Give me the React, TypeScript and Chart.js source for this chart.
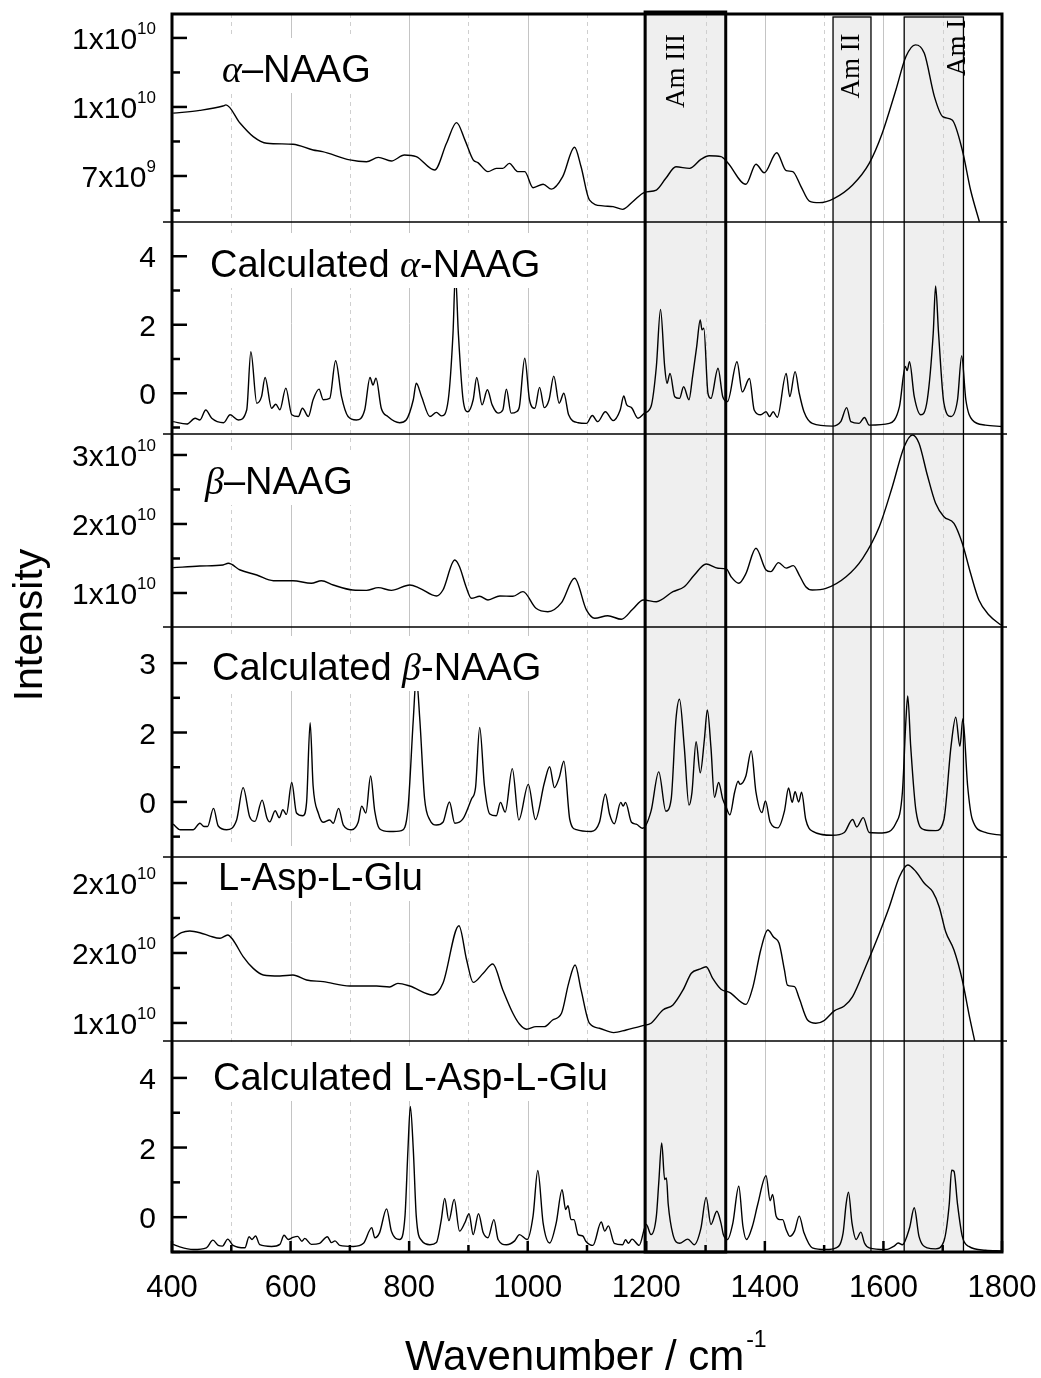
import React, { useEffect, useRef } from "react";
import { Chart, registerables } from "chart.js";

Chart.register(...registerables);

// ---------------- x axis ----------------
const xMin = 400;
const xMax = 1800;
const xMajorTicks = [400, 600, 800, 1000, 1200, 1400, 1600, 1800];
const xMinorTicks = [500, 700, 900, 1100, 1300, 1500, 1700];
const gridSolid = [600, 800, 1000, 1200, 1400, 1600];
const gridDashed = [500, 700, 900, 1100, 1300, 1500, 1700];

// ---------------- amide bands ----------------
const bandNames = ["Am III", "Am II", "Am I"];
const bandStart = [1198, 1515, 1635];
const bandEnd = [1334, 1579, 1735];

// ---------------- alpha-NAAG (experimental, x10^9) ----------------
const alphaNaagWn = [
  402, 447, 486, 491, 515, 537, 560, 604, 638, 654,
  700, 728, 748, 770, 792, 812, 843, 863, 880, 894,
  908, 916, 933, 947, 958, 969, 983, 995, 1009, 1026,
  1040, 1059, 1079, 1090, 1104, 1127, 1144, 1160, 1177, 1197,
  1217, 1233, 1250, 1273, 1292, 1306, 1326, 1337, 1368, 1385,
  1399, 1420, 1436, 1447, 1461, 1475, 1492, 1517, 1548, 1576,
  1598, 1621, 1638, 1654, 1669, 1686, 1700, 1716, 1733, 1747, 1762,
];
const alphaNaagI = [
  9.73, 9.85, 10.04, 10.09, 9.29, 8.71, 8.42, 8.38, 8.13, 8.06,
  7.70, 7.62, 7.81, 7.65, 7.91, 7.84, 7.26, 8.42, 9.32, 8.57,
  7.70, 7.58, 7.19, 7.33, 7.33, 7.55, 7.19, 7.19, 6.49, 6.64,
  6.43, 6.97, 8.25, 7.40, 5.96, 5.70, 5.67, 5.55, 5.88, 6.29,
  6.39, 6.90, 7.40, 7.33, 7.72, 7.88, 7.84, 7.59, 6.64, 7.51,
  7.14, 8.01, 7.23, 7.19, 6.54, 5.91, 5.84, 6.03, 6.61, 7.55,
  8.86, 10.74, 12.19, 12.70, 12.33, 10.45, 9.58, 9.43, 8.13, 6.39, 5.0,
];

// ---------------- calculated alpha-NAAG ----------------
const calcAlphaWn = [
  402, 425, 439, 447, 457, 467, 487, 498, 512, 526,
  533, 543, 551, 557, 568, 575, 582, 592, 602, 613,
  620, 630, 638, 648, 655, 666, 676, 686, 697, 711,
  725, 734, 739, 744, 753, 764, 784, 795, 807, 812,
  821, 835, 846, 855, 866, 874, 878, 883, 891, 899,
  908, 914, 923, 932, 940, 950, 958, 964, 972, 981,
  986, 995, 1003, 1012, 1020, 1028, 1036, 1044, 1053, 1061,
  1069, 1085, 1099, 1109, 1118, 1131, 1144, 1156, 1162, 1167,
  1175, 1186, 1197, 1208, 1217, 1224, 1231, 1235, 1240, 1248,
  1256, 1263, 1272, 1278, 1285, 1291, 1294, 1297, 1304, 1309,
  1321, 1329, 1337, 1353, 1362, 1374, 1382, 1393, 1402, 1408,
  1414, 1421, 1436, 1442, 1451, 1458, 1466, 1480, 1514, 1528,
  1538, 1545, 1559, 1568, 1576, 1610, 1627, 1637, 1640, 1644,
  1652, 1663, 1674, 1684, 1688, 1693, 1702, 1714, 1725, 1732,
  1739, 1750, 1772, 1800,
];
const calcAlphaI = [
  -0.83, -0.90, -0.73, -0.78, -0.49, -0.73, -0.86, -0.63, -0.78, -0.49,
  1.21, -0.29, -0.10, 0.46, -0.44, -0.32, -0.48, 0.15, -0.63, -0.68,
  -0.44, -0.68, -0.19, 0.12, -0.19, -0.15, 0.95, -0.10, -0.68, -0.78,
  -0.49, 0.46, 0.24, 0.44, -0.44, -0.68, -0.86, -0.78, -0.19, 0.29,
  -0.10, -0.68, -0.56, -0.66, -0.19, 1.75, 3.50, 1.75, -0.19, -0.54,
  -0.19, 0.46, -0.34, 0.10, -0.34, -0.58, -0.49, 0.12, -0.58, -0.54,
  -0.39, 1.02, -0.19, -0.44, 0.17, -0.42, -0.19, 0.50, -0.29, 0.00,
  -0.63, -0.86, -0.88, -0.65, -0.83, -0.54, -0.80, -0.49, -0.08, -0.34,
  -0.42, -0.73, -0.58, -0.39, 0.78, 2.45, 0.78, 0.29, 0.58, -0.10,
  -0.15, 0.19, -0.19, 0.48, 1.36, 2.14, 1.85, 1.90, 0.00, -0.15,
  0.73, -0.10, -0.24, 0.92, 0.04, 0.43, -0.49, -0.63, -0.54, -0.68,
  -0.54, -0.70, 0.58, -0.10, 0.63, 0.00, -0.54, -0.88, -0.96, -0.83,
  -0.42, -0.83, -0.88, -0.71, -0.93, -0.88, -0.39, 0.78, 0.66, 0.92,
  -0.10, -0.63, -0.19, 1.75, 3.13, 1.75, -0.29, -0.68, -0.19, 1.09,
  -0.19, -0.78, -0.93, -0.97,
];

// ---------------- beta-NAAG (experimental, x10^9) ----------------
const betaNaagWn = [
  402, 447, 486, 495, 515, 543, 571, 604, 635, 652,
  672, 705, 728, 748, 770, 801, 818, 846, 857, 877,
  885, 896, 905, 919, 933, 953, 975, 992, 1014, 1034,
  1057, 1079, 1099, 1113, 1135, 1158, 1177, 1195, 1217, 1245,
  1264, 1281, 1301, 1321, 1335, 1343, 1356, 1368, 1385, 1402,
  1410, 1423, 1436, 1448, 1458, 1469, 1480, 1503, 1537, 1565,
  1593, 1615, 1635, 1649, 1660, 1674, 1688, 1702, 1719, 1733,
  1747, 1761, 1778, 1798,
];
const betaNaagI = [
  13.67, 13.90, 14.06, 14.30, 13.33, 12.60, 11.78, 11.78, 11.40, 11.78,
  11.16, 10.43, 10.38, 10.77, 10.38, 11.16, 10.68, 9.57, 10.43, 14.78,
  13.81, 10.91, 9.23, 9.52, 8.99, 9.57, 9.52, 10.19, 7.78, 7.29,
  8.60, 12.13, 7.54, 6.33, 6.71, 6.19, 7.64, 8.99, 8.74, 10.19,
  10.91, 12.60, 14.20, 13.58, 13.50, 12.36, 11.40, 12.80, 16.48, 13.33,
  13.09, 14.40, 13.60, 13.96, 12.60, 10.91, 10.43, 10.67, 12.36, 15.03,
  19.60, 25.40, 31.20, 32.90, 31.70, 27.10, 23.00, 21.06, 20.10, 17.20,
  12.85, 8.99, 6.81, 5.36,
];

// ---------------- calculated beta-NAAG ----------------
const calcBetaWn = [
  402, 414, 436, 447, 454, 460, 470, 478, 492, 509,
  520, 531, 540, 552, 560, 565, 574, 581, 587, 593,
  602, 610, 621, 627, 633, 638, 647, 655, 666, 672,
  681, 689, 703, 714, 720, 727, 735, 742, 750, 767,
  787, 798, 807, 812, 818, 826, 835, 846, 857, 868,
  877, 891, 905, 912, 919, 927, 936, 947, 954, 962,
  974, 985, 1001, 1013, 1028, 1037, 1045, 1053, 1061, 1071,
  1082, 1107, 1121, 1131, 1138, 1146, 1157, 1161, 1165, 1175,
  1183, 1194, 1208, 1221, 1233, 1242, 1250, 1256, 1264, 1272,
  1277, 1284, 1291, 1298, 1303, 1309, 1315, 1322, 1329, 1334,
  1341, 1349, 1355, 1358, 1368, 1377, 1385, 1395, 1401, 1409,
  1422, 1433, 1440, 1446, 1451, 1457, 1462, 1469, 1480, 1514,
  1534, 1548, 1555, 1566, 1576, 1598, 1621, 1632, 1638, 1641,
  1646, 1655, 1669, 1688, 1702, 1714, 1722, 1729, 1734, 1742,
  1750, 1772, 1800,
];
const calcBetaI = [
  -0.28, -0.40, -0.40, -0.26, -0.33, -0.33, 0.06, -0.32, -0.40, -0.19,
  0.51, -0.12, -0.22, 0.24, -0.14, -0.23, 0.01, -0.14, 0.03, -0.07,
  0.62, -0.04, -0.10, 0.19, 1.91, 0.55, -0.05, -0.24, -0.19, -0.26,
  0.06, -0.30, -0.40, -0.24, 0.11, -0.04, 0.76, 0.00, -0.38, -0.44,
  -0.42, 0.05, 1.98, 2.90, 1.98, 0.28, -0.19, -0.30, -0.24, 0.20,
  -0.26, -0.16, 0.26, 0.51, 1.81, 0.55, -0.06, -0.10, 0.19, -0.02,
  0.92, -0.19, 0.58, -0.18, 0.61, 0.96, 0.51, 0.72, 1.08, -0.18,
  -0.40, -0.44, -0.24, 0.37, -0.06, -0.27, 0.19, 0.11, 0.19, -0.24,
  -0.28, -0.37, 0.00, 0.85, 0.00, 0.26, 1.98, 2.42, 1.40, 0.13,
  0.40, 1.50, 0.83, 1.55, 2.19, 1.39, 0.30, 0.62, 0.26, 0.11,
  -0.08, 0.41, 0.65, 0.58, 0.76, 1.30, 0.41, -0.03, 0.22, -0.24,
  -0.36, 0.00, 0.50, 0.19, 0.42, 0.20, 0.41, -0.18, -0.43, -0.52,
  -0.46, -0.18, -0.34, -0.14, -0.46, -0.47, -0.26, 0.41, 1.98, 2.49,
  1.40, 0.00, -0.40, -0.42, -0.18, 1.40, 2.03, 1.40, 2.00, 0.55,
  -0.18, -0.46, -0.52,
];

// ---------------- L-Asp-L-Glu (experimental, x10^9) ----------------
const aspGluWn = [
  402, 416, 430, 447, 464, 481, 494, 503, 520, 537,
  554, 582, 604, 627, 655, 700, 745, 767, 781, 801,
  840, 857, 884, 897, 908, 925, 941, 958, 975, 986,
  998, 1014, 1028, 1042, 1057, 1069, 1080, 1090, 1104, 1121,
  1145, 1166, 1194, 1208, 1228, 1245, 1262, 1276, 1290, 1301,
  1312, 1326, 1341, 1368, 1380, 1393, 1405, 1415, 1424, 1433,
  1438, 1450, 1458, 1472, 1486, 1500, 1517, 1534, 1548, 1570,
  1593, 1610, 1627, 1641, 1655, 1669, 1683, 1694, 1705, 1719,
  1733, 1744, 1756,
];
const aspGluI = [
  16.05, 16.45, 16.57, 16.45, 16.21, 16.05, 16.29, 15.93, 14.74, 13.90,
  13.43, 13.36, 13.43, 13.07, 12.95, 12.64, 12.64, 12.57, 12.83, 12.64,
  12.00, 12.83, 16.95, 14.50, 12.90, 13.55, 14.21, 12.36, 10.69, 9.92,
  9.55, 9.74, 9.74, 10.21, 10.69, 12.83, 14.14, 12.36, 9.98, 9.62,
  9.31, 9.50, 9.81, 9.98, 10.93, 11.29, 12.36, 13.55, 13.84, 14.02,
  13.19, 12.41, 12.17, 11.33, 12.60, 15.21, 16.64, 16.12, 15.69, 13.79,
  12.71, 12.60, 11.76, 10.21, 9.98, 10.17, 10.86, 11.21, 11.88, 14.02,
  16.40, 18.31, 20.45, 21.29, 20.81, 19.98, 19.38, 18.31, 16.52, 15.21,
  13.07, 10.69, 8.31,
];

// ---------------- calculated L-Asp-L-Glu ----------------
const calcAspGluWn = [
  402, 411, 436, 458, 469, 478, 485, 494, 503, 523,
  530, 535, 541, 548, 568, 582, 589, 596, 604, 612,
  619, 624, 635, 649, 662, 669, 675, 683, 706, 723,
  737, 742, 750, 762, 770, 784, 793, 798, 802, 807,
  812, 821, 835, 846, 854, 860, 867, 876, 885, 894,
  901, 908, 917, 925, 933, 943, 950, 964, 978, 986,
  999, 1009, 1017, 1026, 1037, 1048, 1058, 1064, 1068, 1073,
  1078, 1085, 1093, 1098, 1110, 1124, 1130, 1136, 1146, 1160,
  1165, 1170, 1176, 1188, 1200, 1208, 1217, 1221, 1226, 1231,
  1234, 1237, 1245, 1256, 1270, 1281, 1292, 1301, 1309, 1319,
  1326, 1330, 1337, 1346, 1356, 1363, 1369, 1379, 1388, 1402,
  1409, 1413, 1419, 1425, 1430, 1436, 1442, 1450, 1458, 1466,
  1480, 1503, 1520, 1532, 1537, 1541, 1547, 1554, 1562, 1568,
  1576, 1604, 1618, 1625, 1632, 1644, 1652, 1660, 1674, 1688,
  1702, 1711, 1715, 1719, 1725, 1733, 1744, 1772, 1800,
];
const calcAspGluI = [
  -0.78, -0.84, -0.93, -0.88, -0.66, -0.81, -0.83, -0.63, -0.81, -0.88,
  -0.56, -0.64, -0.54, -0.79, -0.84, -0.78, -0.52, -0.64, -0.58, -0.55,
  -0.69, -0.61, -0.78, -0.75, -0.56, -0.73, -0.68, -0.81, -0.84, -0.75,
  -0.30, -0.59, -0.45, 0.24, -0.40, -0.64, 0.03, 1.94, 3.18, 1.94,
  0.03, -0.67, -0.79, -0.73, -0.10, 0.54, -0.10, 0.51, -0.40, -0.16,
  0.10, -0.50, 0.10, -0.45, -0.59, -0.07, -0.64, -0.79, -0.68, -0.50,
  -0.64, 0.03, 1.34, -0.17, -0.74, -0.17, 0.79, 0.22, 0.33, -0.07,
  -0.07, -0.50, -0.54, -0.69, -0.81, -0.14, -0.40, -0.25, -0.75, -0.79,
  -0.65, -0.75, -0.63, -0.81, -0.21, -0.50, 0.03, 0.98, 2.13, 1.08,
  1.13, 0.37, -0.50, -0.75, -0.63, -0.79, -0.33, 0.57, -0.21, 0.17,
  -0.17, -0.50, -0.64, -0.17, 0.89, -0.26, -0.64, -0.26, 0.37, 1.19,
  0.47, 0.65, 0.03, -0.07, -0.07, -0.36, -0.55, -0.40, 0.03, -0.45,
  -0.88, -0.93, -0.88, -0.45, 0.37, 0.72, -0.17, -0.64, -0.43, -0.74,
  -0.88, -0.93, -0.83, -0.74, -0.79, -0.31, 0.27, -0.55, -0.88, -0.91,
  -0.69, 0.37, 1.35, 1.32, 0.37, -0.55, -0.84, -0.95, -0.97,
];

// ---------------- panels (top to bottom) ----------------
const panelIds = ["p1", "p2", "p3", "p4", "p5", "p6"];
const panelMin = [5.0, -1.19, 5.07, -0.99, 8.71, -1.0];
const panelMax = [14.04, 5.0, 33.04, 3.98, 21.86, 5.06];
const panelWeight = [208, 212, 193, 230, 184, 211];
const panelMajorTicks = [[7, 10, 13], [0, 2, 4], [10, 20, 30], [0.2, 1.7, 3.2], [10, 15, 20], [0, 2, 4]];
const panelMinorTicks = [[5.5, 8.5, 11.5], [-1, 1, 3], [15, 25], [-0.55, 0.95, 2.45], [12.5, 17.5], [-1, 1, 3]];
const panelUnit = [1e9, 1, 1e9, 1, 1e9, 1];
const seriesWn = [alphaNaagWn, calcAlphaWn, betaNaagWn, calcBetaWn, aspGluWn, calcAspGluWn];
const seriesI = [alphaNaagI, calcAlphaI, betaNaagI, calcBetaI, aspGluI, calcAspGluI];

type Seg = { t: string; greek?: boolean };
const panelTitles: Seg[][] = [
  [{ t: "α", greek: true }, { t: "–NAAG" }],
  [{ t: "Calculated " }, { t: "α", greek: true }, { t: "-NAAG" }],
  [{ t: "β", greek: true }, { t: "–NAAG" }],
  [{ t: "Calculated " }, { t: "β", greek: true }, { t: "-NAAG" }],
  [{ t: "L-Asp-L-Glu" }],
  [{ t: "Calculated L-Asp-L-Glu" }],
];

const xTitle = "Wavenumber / cm";
const xTitleSup = "-1";
const yTitle = "Intensity";

const SANS = '"Liberation Sans", Arial, Helvetica, sans-serif';
const SERIF = '"Liberation Serif", "Times New Roman", Times, serif';

function segFont(s: Seg) {
  return s.greek ? `italic 38px ${SERIF}` : `38px ${SANS}`;
}

function sciLabel(v: number): [string, string] {
  let exp = Math.floor(Math.log10(v) + 1e-9);
  let mant = Math.round(v / Math.pow(10, exp));
  if (mant >= 10) {
    mant = 1;
    exp += 1;
  }
  return [`${mant}x10`, `${exp}`];
}

const decorPlugin = {
  id: "decor",
  beforeDatasetsDraw(chart: any) {
    const { ctx, chartArea: ca } = chart;
    const xs = chart.scales.x;
    ctx.save();
    ctx.fillStyle = "#efefef";
    for (let i = 0; i < bandStart.length; i++) {
      const x0 = xs.getPixelForValue(bandStart[i]);
      const x1 = xs.getPixelForValue(bandEnd[i]);
      ctx.fillRect(x0, ca.top, x1 - x0, ca.bottom - ca.top);
    }
    ctx.strokeStyle = "#c4c4c4";
    ctx.lineWidth = 1;
    for (const v of gridSolid) {
      const x = Math.round(xs.getPixelForValue(v)) + 0.5;
      ctx.beginPath();
      ctx.moveTo(x, ca.top);
      ctx.lineTo(x, ca.bottom);
      ctx.stroke();
    }
    ctx.setLineDash([4, 4]);
    ctx.strokeStyle = "#cfcfcf";
    for (const v of gridDashed) {
      const x = Math.round(xs.getPixelForValue(v)) + 0.5;
      ctx.beginPath();
      ctx.moveTo(x, ca.top);
      ctx.lineTo(x, ca.bottom);
      ctx.stroke();
    }
    ctx.restore();
  },
  afterDatasetsDraw(chart: any) {
    const { ctx, chartArea: ca } = chart;
    const xs = chart.scales.x;
    const ys = panelIds.map((id) => chart.scales[id]);
    ctx.save();
    ctx.textBaseline = "alphabetic";

    // panel titles with white background
    const titleX = [222, 210, 205, 212, 218, 213];
    const titleDy = [68, 55, 60, 53, 33, 49];
    ys.forEach((s: any, i: number) => {
      const segs = panelTitles[i];
      const base = s.top + titleDy[i];
      let w = 0;
      segs.forEach((g) => {
        ctx.font = segFont(g);
        w += ctx.measureText(g.t).width;
      });
      ctx.fillStyle = "#fff";
      ctx.fillRect(titleX[i] - 8, base - 44, w + 16, 55);
      ctx.fillStyle = "#000";
      ctx.textAlign = "left";
      let cx = titleX[i];
      segs.forEach((g) => {
        ctx.font = segFont(g);
        ctx.fillText(g.t, cx, base);
        cx += ctx.measureText(g.t).width;
      });
    });

    // band borders
    ctx.strokeStyle = "#000";
    for (let i = 0; i < bandStart.length; i++) {
      const x0 = xs.getPixelForValue(bandStart[i]);
      const x1 = xs.getPixelForValue(bandEnd[i]);
      ctx.lineWidth = i === 0 ? 3 : 1.3;
      const top = i === 0 ? ca.top - 2 : ca.top + 3;
      ctx.strokeRect(x0, top, x1 - x0, ca.bottom - top);
    }

    // panel separators
    ctx.lineWidth = 1.5;
    for (let i = 0; i < ys.length - 1; i++) {
      const y = ys[i].bottom;
      ctx.beginPath();
      ctx.moveTo(ca.left - 9, y);
      ctx.lineTo(ca.right + 5, y);
      ctx.stroke();
    }

    // frame
    ctx.lineWidth = 3;
    ctx.strokeRect(ca.left, ca.top, ca.right - ca.left, ca.bottom - ca.top);

    // y ticks
    ctx.lineWidth = 2.5;
    ys.forEach((s: any, i: number) => {
      panelMajorTicks[i].forEach((v) => {
        const y = s.getPixelForValue(v);
        ctx.beginPath();
        ctx.moveTo(ca.left, y);
        ctx.lineTo(ca.left + 15, y);
        ctx.stroke();
      });
      panelMinorTicks[i].forEach((v) => {
        const y = s.getPixelForValue(v);
        ctx.beginPath();
        ctx.moveTo(ca.left, y);
        ctx.lineTo(ca.left + 8, y);
        ctx.stroke();
      });
    });
    // x ticks
    xMajorTicks.forEach((v) => {
      const x = xs.getPixelForValue(v);
      ctx.beginPath();
      ctx.moveTo(x, ca.bottom);
      ctx.lineTo(x, ca.bottom - 11);
      ctx.stroke();
    });
    xMinorTicks.forEach((v) => {
      const x = xs.getPixelForValue(v);
      ctx.beginPath();
      ctx.moveTo(x, ca.bottom);
      ctx.lineTo(x, ca.bottom - 7);
      ctx.stroke();
    });

    // y tick labels
    ctx.fillStyle = "#000";
    const right = ca.left - 16;
    ys.forEach((s: any, i: number) => {
      panelMajorTicks[i].forEach((v) => {
        const y = s.getPixelForValue(v);
        if (panelUnit[i] > 1) {
          const [base, sup] = sciLabel(v * panelUnit[i]);
          ctx.textAlign = "left";
          ctx.font = `30px ${SANS}`;
          const bw = ctx.measureText(base).width;
          ctx.font = `17px ${SANS}`;
          const sw = ctx.measureText(sup).width;
          ctx.font = `30px ${SANS}`;
          ctx.fillText(base, right - sw - bw, y + 11);
          ctx.font = `17px ${SANS}`;
          ctx.fillText(sup, right - sw, y - 4);
        } else {
          ctx.textAlign = "right";
          ctx.font = `30px ${SANS}`;
          ctx.fillText(String(Math.round(v)), right, y + 11);
        }
      });
    });

    // x tick labels
    ctx.textAlign = "center";
    ctx.font = `31px ${SANS}`;
    xMajorTicks.forEach((v) => {
      ctx.fillText(String(v), xs.getPixelForValue(v), ca.bottom + 45);
    });

    // x title
    ctx.textAlign = "left";
    ctx.font = `42px ${SANS}`;
    const tw = ctx.measureText(xTitle).width;
    ctx.fillText(xTitle, 405, 1370);
    ctx.font = `23px ${SANS}`;
    ctx.fillText(xTitleSup, 405 + tw + 2, 1347);

    // y title
    ctx.save();
    ctx.translate(42, 625);
    ctx.rotate(-Math.PI / 2);
    ctx.textAlign = "center";
    ctx.font = `41px ${SANS}`;
    ctx.fillText(yTitle, 0, 0);
    ctx.restore();

    // band labels
    const bandLabelWn = [1264, 1559, 1738];
    const bandLabelY = [71, 66, 48];
    ctx.font = `27px ${SERIF}`;
    bandNames.forEach((name, i) => {
      ctx.save();
      ctx.translate(xs.getPixelForValue(bandLabelWn[i]), bandLabelY[i]);
      ctx.rotate(-Math.PI / 2);
      ctx.textAlign = "center";
      ctx.fillText(name, 0, 0);
      ctx.restore();
    });

    ctx.restore();
  },
};

export default function App() {
  const canvasRef = useRef<HTMLCanvasElement | null>(null);

  useEffect(() => {
    const canvas = canvasRef.current;
    if (!canvas) return;
    const datasets = panelIds.map((id, i) => ({
      label: id,
      yAxisID: id,
      data: seriesWn[i].map((x, k) => ({ x, y: seriesI[i][k] })),
      borderColor: "#000",
      borderWidth: 1.4,
      pointRadius: 0,
      fill: false,
      cubicInterpolationMode: "monotone" as const,
    }));
    const scales: any = {
      x: {
        type: "linear",
        position: "bottom",
        min: xMin,
        max: xMax,
        grid: { display: false },
        border: { display: false },
        ticks: { display: false },
        afterFit: (s: any) => {
          s.height = 0;
        },
      },
    };
    panelIds.forEach((id, i) => {
      scales[id] = {
        type: "linear",
        position: "left",
        stack: "panels",
        stackWeight: panelWeight[i],
        weight: panelIds.length - i,
        min: panelMin[i],
        max: panelMax[i],
        grid: { display: false },
        border: { display: false },
        ticks: { display: false },
        afterFit: (s: any) => {
          s.width = 0;
        },
      };
    });
    const chart = new Chart(canvas, {
      type: "line",
      data: { datasets },
      options: {
        animation: false,
        responsive: false,
        maintainAspectRatio: false,
        devicePixelRatio: 1,
        layout: { padding: { left: 172, right: 39, top: 14, bottom: 126 } },
        plugins: { legend: { display: false }, tooltip: { enabled: false }, title: { display: false } },
        scales,
      },
      plugins: [decorPlugin],
    } as any);
    return () => chart.destroy();
  }, []);

  return (
    <div style={{ position: "absolute", left: 0, top: 0, width: 1041, height: 1378, background: "#fff" }}>
      <canvas ref={canvasRef} width={1041} height={1378} style={{ display: "block", width: 1041, height: 1378 }} />
    </div>
  );
}
